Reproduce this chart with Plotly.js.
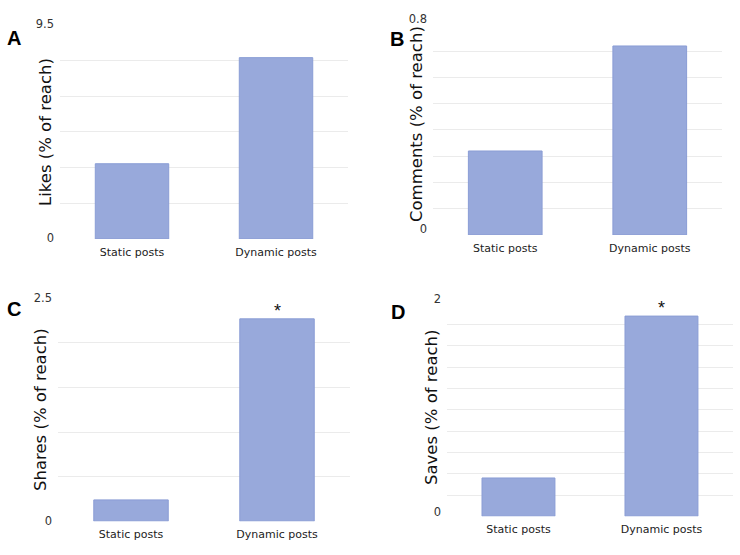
<!DOCTYPE html>
<html>
<head>
<meta charset="utf-8">
<script src="https://cdn.plot.ly/plotly-3.0.1.min.js"></script>
<style>html,body{margin:0;padding:0;background:#fff;}#chart{width:740px;height:555px;}</style>
</head>
<body>
<div id="chart"></div>
<script>
var categories = ['Static posts', 'Dynamic posts'];
var likes = [3.34, 8.05];
var comments = [0.32, 0.72];
var shares = [0.24, 2.27];
var saves = [0.36, 1.88];

var likesTicks = [0, 1.5833, 3.1667, 4.75, 6.3333, 7.9167, 9.5];
var likesTickText = ['0', '', '', '', '', '', '9.5'];
var commentsTicks = [0, 0.1, 0.2, 0.3, 0.4, 0.5, 0.6, 0.7, 0.8];
var commentsTickText = ['0', '', '', '', '', '', '', '', '0.8'];
var sharesTicks = [0, 0.5, 1, 1.5, 2, 2.5];
var sharesTickText = ['0', '', '', '', '', '2.5'];
var savesTicks = [0, 0.2, 0.4, 0.6, 0.8, 1, 1.2, 1.4, 1.6, 1.8, 2];
var savesTickText = ['0', '', '', '', '', '', '', '', '', '', '2'];

var panelLabels = ['A', 'B', 'C', 'D'];
var yTitles = ['Likes (% of reach)', 'Comments (% of reach)', 'Shares (% of reach)', 'Saves (% of reach)'];
var significance = ['', '', '*', '*'];

var series = [likes, comments, shares, saves];
var barColor = '#98a9db';
var barLine = '#8a9dd5';
var font = '"DejaVu Sans", Lato, sans-serif';

var traces = series.map(function (vals, i) {
  var n = i === 0 ? '' : String(i + 1);
  return {
    type: 'bar', x: categories, y: vals, width: 0.51,
    xaxis: 'x' + n, yaxis: 'y' + n,
    marker: {color: barColor, line: {color: barLine, width: 1}},
    hoverinfo: 'x+y', showlegend: false
  };
});

function xa(dom) {
  return {domain: dom, showgrid: false, zeroline: false, showline: false, ticks: '',
    ticklabelstandoff: 5,
    tickfont: {family: font, size: 11, color: '#222'}, fixedrange: true};
}
function ya(dom, range, tv, tt, shift) {
  return {domain: dom, range: range, tickvals: tv, ticktext: tt, showgrid: true,
    gridcolor: '#ebebeb', gridwidth: 1, zeroline: false, showline: false, ticks: '',
    ticklabelshift: shift, ticklabelstandoff: 5,
    tickfont: {family: font, size: 11.5, color: '#333'}, fixedrange: true};
}

var doms = [
  {x: [0.0811, 0.4703], y: [0.5694, 0.955]},
  {x: [0.5851, 0.9757], y: [0.5766, 0.955]},
  {x: [0.0784, 0.473], y: [0.0607, 0.4625]},
  {x: [0.604, 0.9905], y: [0.0697, 0.4535]}
];

var annotations = [];
var labelPos = [[14, 38], [397, 39], [14, 309], [398, 312]];
var titlePos = [[45, 132], [417, 124], [40, 410], [432, 407]];
for (var i = 0; i < 4; i++) {
  annotations.push({xref: 'paper', yref: 'paper', x: labelPos[i][0] / 740, y: 1 - labelPos[i][1] / 555,
    text: '<b>' + panelLabels[i] + '</b>', showarrow: false, xanchor: 'center', yanchor: 'middle',
    font: {family: 'Arial, "Liberation Sans", sans-serif', size: 20, color: '#000'}});
  annotations.push({xref: 'paper', yref: 'paper', x: titlePos[i][0] / 740, y: 1 - titlePos[i][1] / 555,
    text: yTitles[i], textangle: -90, showarrow: false, xanchor: 'center', yanchor: 'middle',
    font: {family: font, size: 16.5, color: '#111'}});
  if (significance[i]) {
    var n = i === 0 ? '' : String(i + 1);
    annotations.push({xref: 'x' + n, yref: 'y' + n, x: categories[1], y: series[i][1],
      text: significance[i], showarrow: false, yanchor: 'bottom', yshift: -4,
      font: {family: 'Arial, sans-serif', size: 18, color: '#111'}});
  }
}

var layout = {
  width: 740, height: 555,
  margin: {l: 0, r: 0, t: 0, b: 0},
  paper_bgcolor: '#fff', plot_bgcolor: '#fff',
  xaxis: xa(doms[0].x), yaxis: ya(doms[0].y, [0, 9.5], likesTicks, likesTickText, -1),
  xaxis2: xa(doms[1].x), yaxis2: ya(doms[1].y, [0, 0.8], commentsTicks, commentsTickText, -6),
  xaxis3: xa(doms[2].x), yaxis3: ya(doms[2].y, [0, 2.5], sharesTicks, sharesTickText, 0),
  xaxis4: xa(doms[3].x), yaxis4: ya(doms[3].y, [0, 2], savesTicks, savesTickText, -4),
  annotations: annotations
};
layout.yaxis2.anchor = 'x2'; layout.xaxis2.anchor = 'y2';
layout.yaxis3.anchor = 'x3'; layout.xaxis3.anchor = 'y3';
layout.yaxis4.anchor = 'x4'; layout.xaxis4.anchor = 'y4';

Plotly.newPlot('chart', traces, layout, {displayModeBar: false, staticPlot: true});
</script>
</body>
</html>
